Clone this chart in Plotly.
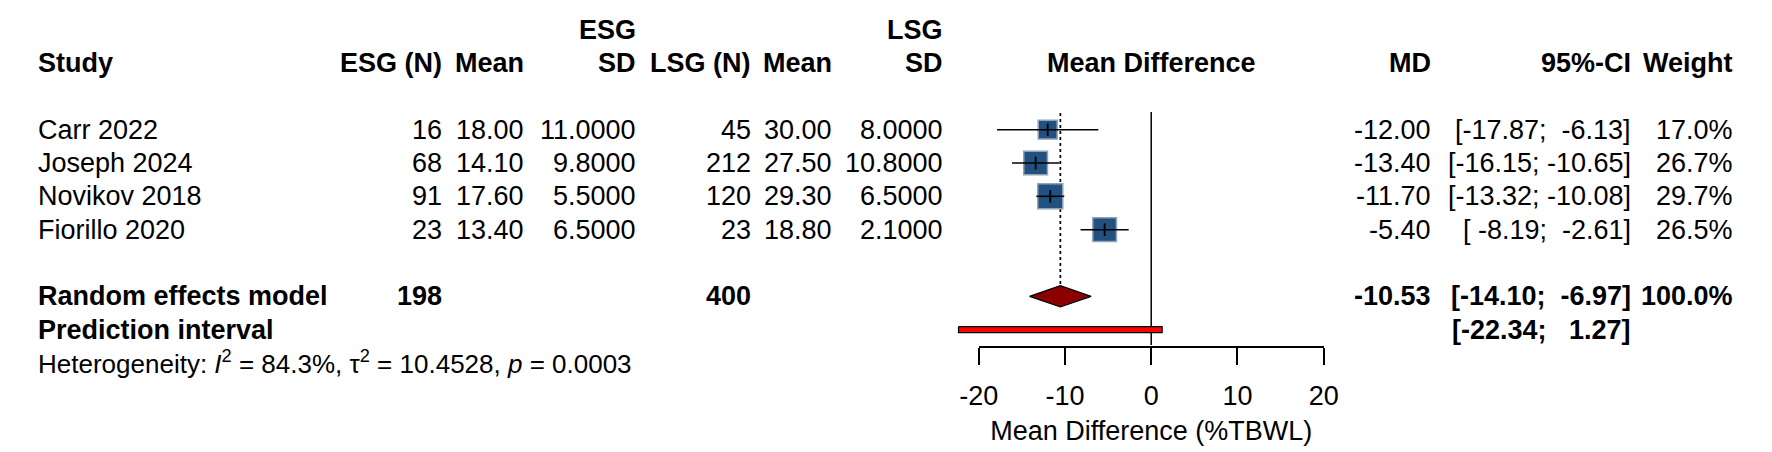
import numpy as np
import plotly.graph_objects as go

# study data
studies = ["Carr 2022", "Joseph 2024", "Novikov 2018", "Fiorillo 2020"]
esg_n = [16, 68, 91, 23]
esg_mean = [18.00, 14.10, 17.60, 13.40]
esg_sd = [11.0, 9.8, 5.5, 6.5]
lsg_n = [45, 212, 120, 23]
lsg_mean = [30.00, 27.50, 29.30, 18.80]
lsg_sd = [8.0, 10.8, 6.5, 2.1]
md = [-12.00, -13.40, -11.70, -5.40]
ci_low = [-17.87, -16.15, -13.32, -8.19]
ci_high = [-6.13, -10.65, -10.08, -2.61]
weight = [17.0, 26.7, 29.7, 26.5]

# pooled results
re_n_esg, re_n_lsg = 198, 400
re_md, re_low, re_high, re_weight = -10.53, -14.10, -6.97, 100.0
pi_low, pi_high = -22.34, 1.27
het_i2, het_tau2, het_p = 84.3, 10.4528, 0.0003
xticks = [-20, -10, 0, 10, 20]

W, H = 1772, 452
ROW0, ROWH = 63, 33.33   # pixel centre of header row, row height
FONT = "Liberation Sans, Arial, sans-serif"
FS = 27
NB = "\u00a0"

study_rows = [2, 3, 4, 5]
re_row, pi_row, het_row = 7, 8, 9


def fmt_ci(lo, hi):
    return f"[{lo:6.2f}; {hi:6.2f}]".replace(" ", NB)


fig = go.Figure()

# zero line and dotted pooled line
axis_row = (345 - ROW0) / ROWH
fig.add_trace(go.Scatter(x=[0, 0], y=[1.47, axis_row], mode="lines",
                         line=dict(color="black", width=1.5)))
fig.add_trace(go.Scatter(x=[re_md, re_md], y=[1.5, re_row - 0.3], mode="lines",
                         line=dict(color="black", width=1.7, dash="dot")))

# study squares (side ~ sqrt of weight)
sizes = [25 * np.sqrt(w / max(weight)) for w in weight]
fig.add_trace(go.Scatter(
    x=md, y=study_rows, mode="markers",
    marker=dict(symbol="square", size=sizes, color="#22507f", opacity=1,
                line=dict(color="#8fa3b8", width=1.5))))

# confidence intervals
cx, cy = [], []
for lo, hi, r in zip(ci_low, ci_high, study_rows):
    cx += [lo, hi, None]
    cy += [r, r, None]
fig.add_trace(go.Scatter(x=cx, y=cy, mode="lines",
                         line=dict(color="black", width=1.5)))
fig.add_trace(go.Scatter(x=md, y=study_rows, mode="markers",
                         marker=dict(symbol="line-ns", size=9, opacity=1,
                                     line=dict(color="black", width=1.8))))

# pooled diamond
dh = 0.32
fig.add_trace(go.Scatter(
    x=[re_low, re_md, re_high, re_md, re_low],
    y=[re_row, re_row - dh, re_row, re_row + dh, re_row],
    mode="lines", fill="toself", fillcolor="#8b0000",
    line=dict(color="black", width=1.2)))

# prediction interval bar
ph = 0.09
fig.add_trace(go.Scatter(
    x=[pi_low, pi_high, pi_high, pi_low, pi_low],
    y=[pi_row - ph, pi_row - ph, pi_row + ph, pi_row + ph, pi_row - ph],
    mode="lines", fill="toself", fillcolor="#ff0000",
    line=dict(color="black", width=1.2)))

# axis-only subplot for the x axis
fig.add_trace(go.Scatter(x=[None], y=[None], xaxis="x2", yaxis="y2"))

# text columns
ann = []


def txt(xpx, row, text, anchor="right", size=FS):
    ann.append(dict(x=xpx / W, y=row, xref="paper", yref="y", text=text,
                    xanchor=anchor, yanchor="middle", showarrow=False,
                    borderpad=0,
                    font=dict(family=FONT, size=size, color="black")))


cols = [432, 515, 629, 747, 829, 943]
txt(17, 0, "<b>Study</b>", "left")
txt(cols[0], 0, "<b>ESG (N)</b>")
txt(cols[1], 0, "<b>Mean</b>")
txt(cols[2], -1, "<b>ESG</b>")
txt(cols[2], 0, "<b>SD</b>")
txt(cols[3], 0, "<b>LSG (N)</b>")
txt(cols[4], 0, "<b>Mean</b>")
txt(cols[5], -1, "<b>LSG</b>")
txt(cols[5], 0, "<b>SD</b>")
txt(1154, 0, "<b>Mean Difference</b>", "center")
txt(1440, 0, "<b>MD</b>")
txt(1644, 0, "<b>95%-CI</b>")
txt(1749, 0, "<b>Weight</b>")

for i, r in enumerate(study_rows):
    txt(17, r, studies[i], "left")
    txt(cols[0], r, f"{esg_n[i]}")
    txt(cols[1], r, f"{esg_mean[i]:.2f}")
    txt(cols[2], r, f"{esg_sd[i]:.4f}")
    txt(cols[3], r, f"{lsg_n[i]}")
    txt(cols[4], r, f"{lsg_mean[i]:.2f}")
    txt(cols[5], r, f"{lsg_sd[i]:.4f}")
    txt(1440, r, f"{md[i]:.2f}")
    txt(1644, r, fmt_ci(ci_low[i], ci_high[i]))
    txt(1749, r, f"{weight[i]:.1f}%")

txt(17, re_row, "<b>Random effects model</b>", "left")
txt(cols[0], re_row, f"<b>{re_n_esg}</b>")
txt(cols[3], re_row, f"<b>{re_n_lsg}</b>")
txt(1440, re_row, f"<b>{re_md:.2f}</b>")
txt(1644, re_row, f"<b>{fmt_ci(re_low, re_high)}</b>")
txt(1749, re_row, f"<b>{re_weight:.1f}%</b>")

txt(17, pi_row, "<b>Prediction interval</b>", "left")
txt(1644, pi_row, f"<b>{fmt_ci(pi_low, pi_high)}</b>")

txt(17, het_row,
    f"Heterogeneity: <i>I</i><sup>2</sup> = {het_i2:.1f}%, "
    f"\u03c4<sup>2</sup> = {het_tau2:.4f}, <i>p</i> = {het_p:.4f}",
    "left", size=26)

y_top = -ROW0 / ROWH
y_bot = (H - ROW0) / ROWH
ax_frac = (H - 345) / H

fig.update_layout(
    width=W, height=H,
    margin=dict(l=0, r=0, t=0, b=0),
    paper_bgcolor="white", plot_bgcolor="rgba(0,0,0,0)",
    showlegend=False, hovermode=False,
    font=dict(family=FONT, size=FS, color="black"),
    xaxis=dict(domain=[(1154 - 24 * 8.8) / W, (1154 + 20 * 8.8) / W],
               range=[-24, 20], visible=False, fixedrange=True),
    yaxis=dict(domain=[0, 1], range=[y_bot, y_top], visible=False,
               fixedrange=True),
    xaxis2=dict(domain=[(1154 - 20 * 8.8) / W, (1154 + 20 * 8.8) / W],
                range=[-20, 20], anchor="y2", showline=True,
                linecolor="black", linewidth=1.7, ticks="outside",
                ticklen=17, tickwidth=1.7, tickcolor="black",
                tickvals=xticks, ticktext=[str(t) for t in xticks],
                showgrid=False, zeroline=False, ticklabelstandoff=8,
                tickfont=dict(family=FONT, size=FS, color="black"),
                title=dict(text="Mean Difference (%TBWL)", standoff=11,
                           font=dict(family=FONT, size=FS, color="black"))),
    yaxis2=dict(domain=[ax_frac - 0.002, ax_frac], visible=False,
                range=[0, 1], fixedrange=True),
    annotations=ann,
)

fig.write_html("out.html", config={"displayModeBar": False},
               post_script="document.body.style.margin='0px';")
